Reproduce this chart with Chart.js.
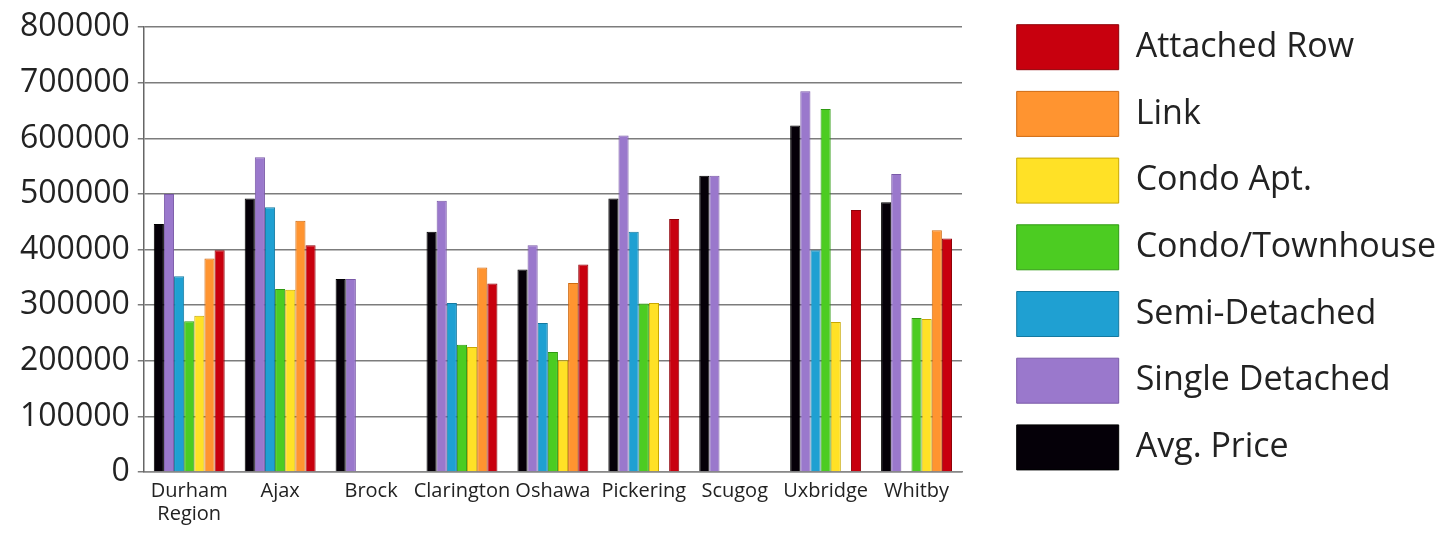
<!DOCTYPE html>
<html>
<head>
<meta charset="utf-8">
<script src="https://cdn.jsdelivr.net/npm/chart.js@4"></script>
<style>
  html, body { margin: 0; padding: 0; background: #fff; }
  #wrap { width: 1450px; height: 556px; }
</style>
</head>
<body>
<div id="wrap"><canvas id="priceChart"></canvas></div>
<script>
const regions = [['Durham', 'Region'], 'Ajax', 'Brock', 'Clarington', 'Oshawa', 'Pickering', 'Scugog', 'Uxbridge', 'Whitby'];

const avgPrice       = [446000, 492000, 347000, 432000, 364000, 492000, 533000, 623000, 485000];
const singleDetached = [500000, 566000, 347000, 488000, 408000, 605000, 533000, 685000, 536000];
const semiDetached   = [352000, 476000, null, 304000, 268000, 432000, null, 399000, null];
const condoTownhouse = [271000, 329000, null, 229000, 216000, 303000, null, 653000, 277000];
const condoApt       = [281000, 328000, null, 225000, 201000, 304000, null, 270000, 275000];
const link           = [384000, 452000, null, 368000, 340000, null, null, null, 435000];
const attachedRow    = [399000, 408000, null, 339000, 373000, 455000, null, 471000, 420000];

const yTicks = [0, 100000, 200000, 300000, 400000, 500000, 600000, 700000, 800000];

const series = [
    { label: 'Avg. Price',       data: avgPrice,       color: '#050008', edge: '#000000' },
    { label: 'Single Detached',  data: singleDetached, color: '#9a78cc', edge: '#7a5aa8' },
    { label: 'Semi-Detached',    data: semiDetached,   color: '#1fa0d2', edge: '#1479a0' },
    { label: 'Condo/Townhouse',  data: condoTownhouse, color: '#4ccc22', edge: '#2f9a12' },
    { label: 'Condo Apt.',       data: condoApt,       color: '#ffe126', edge: '#c9a800' },
    { label: 'Link',             data: link,           color: '#ff9430', edge: '#cf6a10' },
    { label: 'Attached Row',     data: attachedRow,    color: '#c8000e', edge: '#900008' }
];

// legend sits further right than chart.js would put it
const legendShift = {
    id: 'legendShift',
    beforeLayout(chart) {
        const lg = chart.legend;
        if (!lg || lg._shifted) return;
        lg._shifted = true;
        const fit = lg.fit;
        lg.fit = function () { fit.call(this); this.width = 488; };
        const draw = lg.draw;
        lg.draw = function (a) {
            this.left += 33; this.top -= 5;
            draw.call(this, a);
            this.left -= 33; this.top += 5;
        };
    }
};

new Chart(document.getElementById('priceChart'), {
    type: 'bar',
    data: {
        labels: regions,
        datasets: series.map(s => ({
            label: s.label,
            data: s.data,
            backgroundColor: s.color,
            borderColor: s.edge,
            borderWidth: 1,
            categoryPercentage: 0.78,
            barPercentage: 1
        }))
    },
    options: {
        responsive: true,
        maintainAspectRatio: false,
        animation: false,
        layout: { padding: { top: 8, left: 12, bottom: 30, right: 0 } },
        scales: {
            x: {
                grid: { display: false },
                border: { display: true, color: '#888', width: 1.5 },
                ticks: {
                    color: '#222',
                    padding: 0,
                    maxRotation: 0,
                    autoSkip: false,
                    font: { family: 'Open Sans', size: 20, lineHeight: 1.15 }
                }
            },
            y: {
                min: 0,
                max: 800000,
                afterBuildTicks: axis => { axis.ticks = yTicks.map(v => ({ value: v })); },
                grid: { color: '#7c7c7c', lineWidth: 1.5, tickLength: 6 },
                border: { display: true, color: '#666', width: 1.5 },
                ticks: {
                    color: '#222',
                    padding: 8,
                    callback: v => String(v),
                    font: { family: 'Open Sans', size: 32 }
                }
            }
        },
        plugins: {
            legend: {
                position: 'right',
                align: 'start',
                reverse: true,
                labels: {
                    boxWidth: 102,
                    boxHeight: 45,
                    padding: 21.7,
                    color: '#222',
                    font: { family: 'Open Sans', size: 34 }
                }
            },
            tooltip: { enabled: false }
        }
    },
    plugins: [legendShift]
});
</script>
</body>
</html>
